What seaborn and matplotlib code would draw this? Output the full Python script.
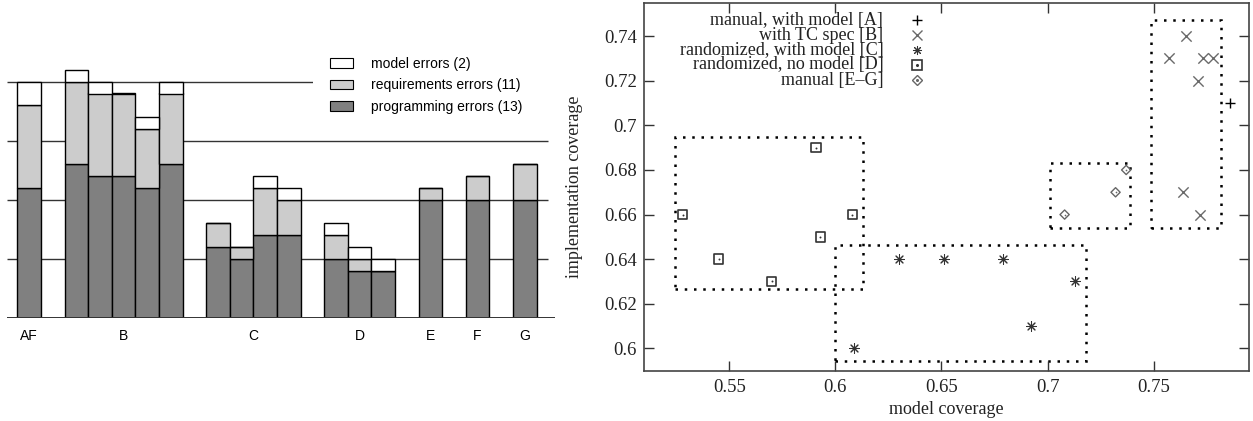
import numpy as np
import pandas as pd
import matplotlib
matplotlib.use('Agg')
import matplotlib.pyplot as plt
import seaborn as sns
from matplotlib.patches import Patch, Rectangle

# Datos del grafico izquierdo: errores por ejecucion
groups = ['AF', 'B', 'B', 'B', 'B', 'B', 'C', 'C', 'C', 'C', 'D', 'D', 'D', 'E', 'F', 'G']
programming = [11, 13, 12, 12, 11, 13, 6, 5, 7, 7, 5, 4, 4, 10, 10, 10]
requirements = [7, 7, 7, 7, 5, 6, 2, 1, 4, 3, 2, 1, 0, 1, 2, 3]
model = [2, 1, 1, 0, 1, 1, 0, 0, 1, 1, 1, 1, 1, 0, 0, 0]
legend_labels = ['model errors (2)', 'requirements errors (11)', 'programming errors (13)']
grid_levels = [5, 10, 15, 20]

# Datos del grafico derecho: cobertura
a_model = [0.786]
a_impl = [0.71]
b_model = [0.765, 0.757, 0.773, 0.778, 0.771, 0.764, 0.772]
b_impl = [0.74, 0.73, 0.73, 0.73, 0.72, 0.67, 0.66]
c_model = [0.609, 0.630, 0.651, 0.679, 0.692, 0.713]
c_impl = [0.60, 0.64, 0.64, 0.64, 0.61, 0.63]
d_model = [0.528, 0.545, 0.570, 0.591, 0.593, 0.608]
d_impl = [0.66, 0.64, 0.63, 0.69, 0.65, 0.66]
eg_model = [0.708, 0.732, 0.737]
eg_impl = [0.66, 0.67, 0.68]
series_labels = ['manual, with model [A]', 'with TC spec [B]', 'randomized, with model [C]',
                 'randomized, no model [D]', 'manual [E\u2013G]']
# cajas punteadas (x0, x1, y0, y1)
box_d = (0.5245, 0.613, 0.6265, 0.6947)
box_c = (0.600, 0.718, 0.5943, 0.6462)
box_eg = (0.701, 0.739, 0.6542, 0.683)
box_b = (0.7488, 0.7816, 0.6542, 0.7472)

W, H = 1253, 421
fig = plt.figure(figsize=(W / 100, H / 100), dpi=100)

# ---------------- grafico de barras ----------------
slots = []
pos = 0
for i, g in enumerate(groups):
    if i > 0:
        pos += 1 if g == groups[i - 1] else 2
    slots.append(pos)

df = pd.DataFrame({'slot': slots, 'programming': programming,
                   'requirements': requirements, 'model': model})
df['req_bottom'] = df['programming']
df['mod_bottom'] = df['programming'] + df['requirements']

ax1 = fig.add_axes([6.7 / W, (H - 317.7) / H, (555 - 6.7) / W, 317.7 / H])
xmin, xmax = -0.95, 22.28
ax1.hlines(grid_levels, xmin, 21.99, color='#333333', lw=1.0, zorder=0)
ax1.axhline(0, color='#333333', lw=1.4, zorder=3)
# fondo blanco de la leyenda (tapa la linea de 20)
ax1.add_patch(Rectangle((313 / W, 1 - 40 / H), (556 - 313) / W, -97 / H, transform=fig.transFigure,
                        fc='white', ec='none', zorder=0.5))

bar_kw = dict(native_scale=True, width=1, saturation=1, edgecolor='black',
              linewidth=1.0, errorbar=None, ax=ax1)
sns.barplot(data=df, x='slot', y='programming', color='#808080', **bar_kw)
sns.barplot(data=df, x='slot', y='requirements', bottom=df['req_bottom'],
            color='#cccccc', **bar_kw)
sns.barplot(data=df, x='slot', y='model', bottom=df['mod_bottom'],
            color='white', **bar_kw)

ax1.set_xlim(xmin, xmax)
ax1.set_ylim(0, 317.7 / 11.8)
centers = df.groupby(pd.Series(groups), sort=False)['slot'].mean()
ax1.set_xticks(centers.values, centers.index)
ax1.tick_params(axis='x', length=0, pad=8, labelsize=10, labelfontfamily='Liberation Sans')
ax1.set_yticks([])
ax1.set_xlabel('')
ax1.set_ylabel('')
for s in ax1.spines.values():
    s.set_visible(False)

handles = [Patch(facecolor=c, edgecolor='black', lw=0.8) for c in ['white', '#cccccc', '#808080']]
leg = ax1.legend(handles, legend_labels, loc='upper left',
                 bbox_to_anchor=(313 / W, 1 - 40 / H), bbox_transform=fig.transFigure,
                 borderaxespad=0, borderpad=1.2, frameon=True, framealpha=1,
                 facecolor='white', edgecolor='none', fancybox=False,
                 handlelength=1.65, handleheight=0.7, handletextpad=1.3,
                 labelspacing=0.55, prop={'family': 'Liberation Sans', 'size': 10})

# ---------------- grafico de dispersion ----------------
ax2 = fig.add_axes([644.3 / W, (H - 370.7) / H, (1249.3 - 644.3) / W, 368 / H])
ax2.set_xlim(0.51, 0.795)
ax2.set_ylim(0.59, 0.755)

for (x0, x1, y0, y1) in [box_d, box_c, box_eg, box_b]:
    ax2.add_patch(Rectangle((x0, y0), x1 - x0, y1 - y0, fill=False, ec='black',
                            lw=1.8, ls=(0, (1, 2.7)), zorder=1))

sns.scatterplot(x=a_model, y=a_impl, marker='+', s=60, color='black', linewidth=1.0, ax=ax2, zorder=3)
sns.scatterplot(x=b_model, y=b_impl, marker='x', s=55, color='#6a6a6a', linewidth=1.0, ax=ax2, zorder=3)
sns.scatterplot(x=c_model, y=c_impl, marker=(8, 2, 0), s=50, color='#333333', linewidth=0.75, ax=ax2, zorder=3)
sns.scatterplot(x=d_model, y=d_impl, marker='s', s=48, facecolor='none', edgecolor='#333333',
                linewidth=1.2, ax=ax2, zorder=3)
sns.scatterplot(x=d_model, y=d_impl, marker='o', s=2, color='#333333', linewidth=0, ax=ax2, zorder=3)
sns.scatterplot(x=eg_model, y=eg_impl, marker='D', s=22, facecolor='none', edgecolor='#666666',
                linewidth=1.0, ax=ax2, zorder=3)
sns.scatterplot(x=eg_model, y=eg_impl, marker='o', s=1.5, color='#666666', linewidth=0, ax=ax2, zorder=3)

ax2.set_xticks([0.55, 0.6, 0.65, 0.7, 0.75], ['0.55', '0.6', '0.65', '0.7', '0.75'])
ax2.set_yticks([0.6, 0.62, 0.64, 0.66, 0.68, 0.7, 0.72, 0.74],
               ['0.6', '0.62', '0.64', '0.66', '0.68', '0.7', '0.72', '0.74'])
ax2.tick_params(direction='in', top=True, right=True, length=7, width=1, color='#333333',
                labelsize=13.5, labelfontfamily='Liberation Serif', labelcolor='#222222')
ax2.tick_params(axis='x', pad=6)
ax2.tick_params(axis='y', pad=5.5)
for s in ax2.spines.values():
    s.set_linewidth(1.2)
    s.set_color('#444444')
ax2.set_xlabel('model coverage', fontsize=13, family='Liberation Serif', color='#222222')
ax2.set_ylabel('implementation coverage', fontsize=13, family='Liberation Serif', color='#222222')
ax2.xaxis.set_label_coords(0.5, -0.083)
ax2.yaxis.set_label_coords(-0.102, 0.5)

# leyenda al estilo gnuplot
key_styles = [
    dict(marker='+', color='black', ms=7, mew=1.0),
    dict(marker='x', color='#6a6a6a', ms=6.5, mew=1.0),
    dict(marker=(8, 2, 0), color='#333333', ms=6.5, mew=0.75),
    dict(marker='s', mfc='none', mec='#333333', ms=6.5, mew=1.2),
    dict(marker='D', mfc='none', mec='#666666', ms=4.7, mew=1.0),
]
tx = (883.3 - 644.3) / 605
mx = (916.7 - 644.3) / 605
for i, (lab, st) in enumerate(zip(series_labels, key_styles)):
    yy = (370.7 - (20 + 15 * i)) / 368
    ax2.text(tx, yy, lab, transform=ax2.transAxes, ha='right', va='center',
             fontsize=13, family='Liberation Serif', color='#222222')
    ax2.plot([mx], [yy], transform=ax2.transAxes, ls='none', clip_on=False, **st)
    if i >= 3:
        ax2.plot([mx], [yy], transform=ax2.transAxes, ls='none', marker='o', ms=1.2,
                 color=st['mec'], clip_on=False)

fig.savefig('out.png', dpi=100)
